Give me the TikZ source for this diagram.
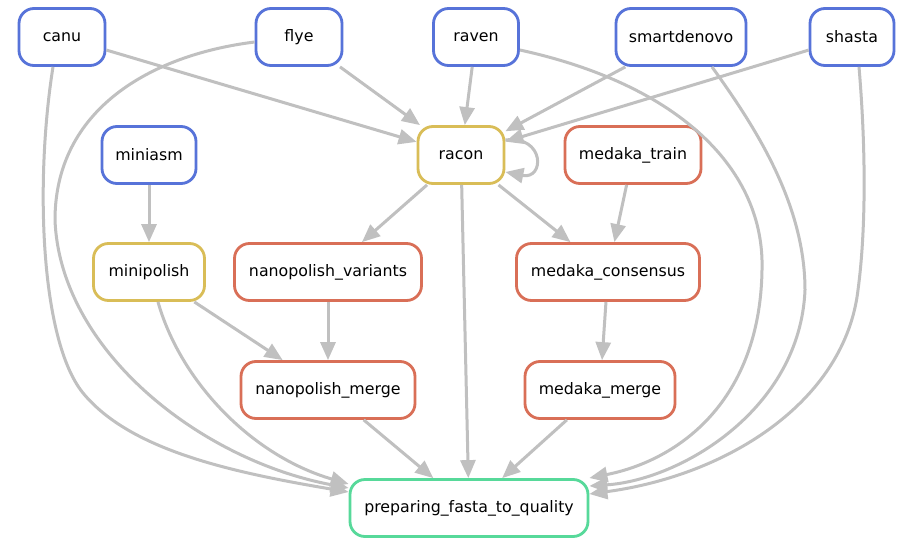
\documentclass[tikz,border=0pt]{standalone}
\usepackage{fontspec}
\setmainfont{DejaVu Sans}
\usetikzlibrary{arrows.meta}

\definecolor{asmblue}{RGB}{87,115,217}
\definecolor{polyellow}{RGB}{217,189,87}
\definecolor{medred}{RGB}{217,111,87}
\definecolor{finalgreen}{RGB}{87,217,154}
\definecolor{edgegray}{RGB}{192,192,192}

\tikzset{
  job/.style={rectangle, rounded corners=15pt, line width=2.8pt, fill=white,
    minimum height=57pt, inner sep=0pt,
    font=\fontsize{15.8}{18}\selectfont},
  assembler/.style={job, draw=asmblue},
  polisher/.style={job, draw=polyellow},
  medakajob/.style={job, draw=medred},
  finaljob/.style={job, draw=finalgreen},
  dep/.style={draw=edgegray, line width=3pt,
    -{Triangle[length=18pt,width=15pt,fill=edgegray]}}
}

\begin{document}
\begin{tikzpicture}[x=1pt,y=-1pt]
\useasboundingbox[fill=white] (0,0) rectangle (897,538);

% assemblers
\node[assembler, minimum width=86pt]  (canu)   at (62,37)  {canu};
\node[assembler, minimum width=86pt]  (flye)   at (299,37) {flye};
\node[assembler, minimum width=85pt]  (raven)  at (476,37) {raven};
\node[assembler, minimum width=130pt] (smart)  at (681,37) {smartdenovo};
\node[assembler, minimum width=84pt]  (shasta) at (852,37) {shasta};
\node[assembler, minimum width=94pt]  (miniasm) at (149,155) {miniasm};

% polishers
\node[polisher, minimum width=86pt]  (racon)  at (461,155) {racon};
\node[polisher, minimum width=111pt] (minipolish) at (149,272) {minipolish};

% nanopolish / medaka
\node[medakajob, minimum width=136pt] (mtrain) at (633,155) {medaka\_train};
\node[medakajob, minimum width=187pt] (npvar)  at (328,272) {nanopolish\_variants};
\node[medakajob, minimum width=183pt] (mcons)  at (608,272) {medaka\_consensus};
\node[medakajob, minimum width=174pt] (npmerge) at (328,390) {nanopolish\_merge};
\node[medakajob, minimum width=150pt] (mmerge) at (600,390) {medaka\_merge};

% final step
\node[finaljob, minimum width=238pt] (prep) at (469,508) {preparing\_fasta\_to\_quality};

% straight dependencies
\draw[dep] (canu) -- (racon);
\draw[dep] (flye) -- (racon);
\draw[dep] (raven) -- (racon);
\draw[dep] (smart) -- (racon);
\draw[dep] (shasta) -- (racon);
\draw[dep] (miniasm) -- (minipolish);
\draw[dep] (racon) -- (npvar);
\draw[dep] (racon) -- (mcons);
\draw[dep] (racon) -- (prep);
\draw[dep] (mtrain) -- (mcons);
\draw[dep] (minipolish) -- (npmerge);
\draw[dep] (npvar) -- (npmerge);
\draw[dep] (npmerge) -- (prep);
\draw[dep] (mcons) -- (mmerge);
\draw[dep] (mmerge) -- (prep);

% racon feeds itself
\draw[dep] ([yshift=15pt]racon.east) .. controls (545,135) and (545,180) .. ([yshift=-17pt]racon.east);

% long curved dependencies into the final step, left side
\draw[dep] ([xshift=-9pt]canu.south) .. controls (35,180) and (40,340) .. (83,393)
  .. controls (130,450) and (230,472) .. ([yshift=16pt]prep.west);
\draw[dep] ([yshift=-5pt]flye.west) .. controls (150,55) and (55,110) .. (55,220)
  .. controls (60,350) and (200,460) .. ([yshift=20pt]prep.west);
\draw[dep] ([xshift=9pt]minipolish.south) .. controls (180,380) and (250,455) .. ([yshift=24pt]prep.west);

% long curved dependencies into the final step, right side
\draw[dep] ([yshift=-13pt]raven.east) .. controls (680,85) and (765,170) .. (762,270)
  .. controls (760,400) and (680,460) .. ([yshift=30pt]prep.east);
\draw[dep] ([xshift=31pt]smart.south) .. controls (750,120) and (805,200) .. (805,290)
  .. controls (800,410) and (680,480) .. ([yshift=22pt]prep.east);
\draw[dep] ([xshift=7pt]shasta.south) .. controls (866,150) and (866,230) .. (858,290)
  .. controls (845,400) and (730,475) .. ([yshift=14pt]prep.east);
\end{tikzpicture}
\end{document}
